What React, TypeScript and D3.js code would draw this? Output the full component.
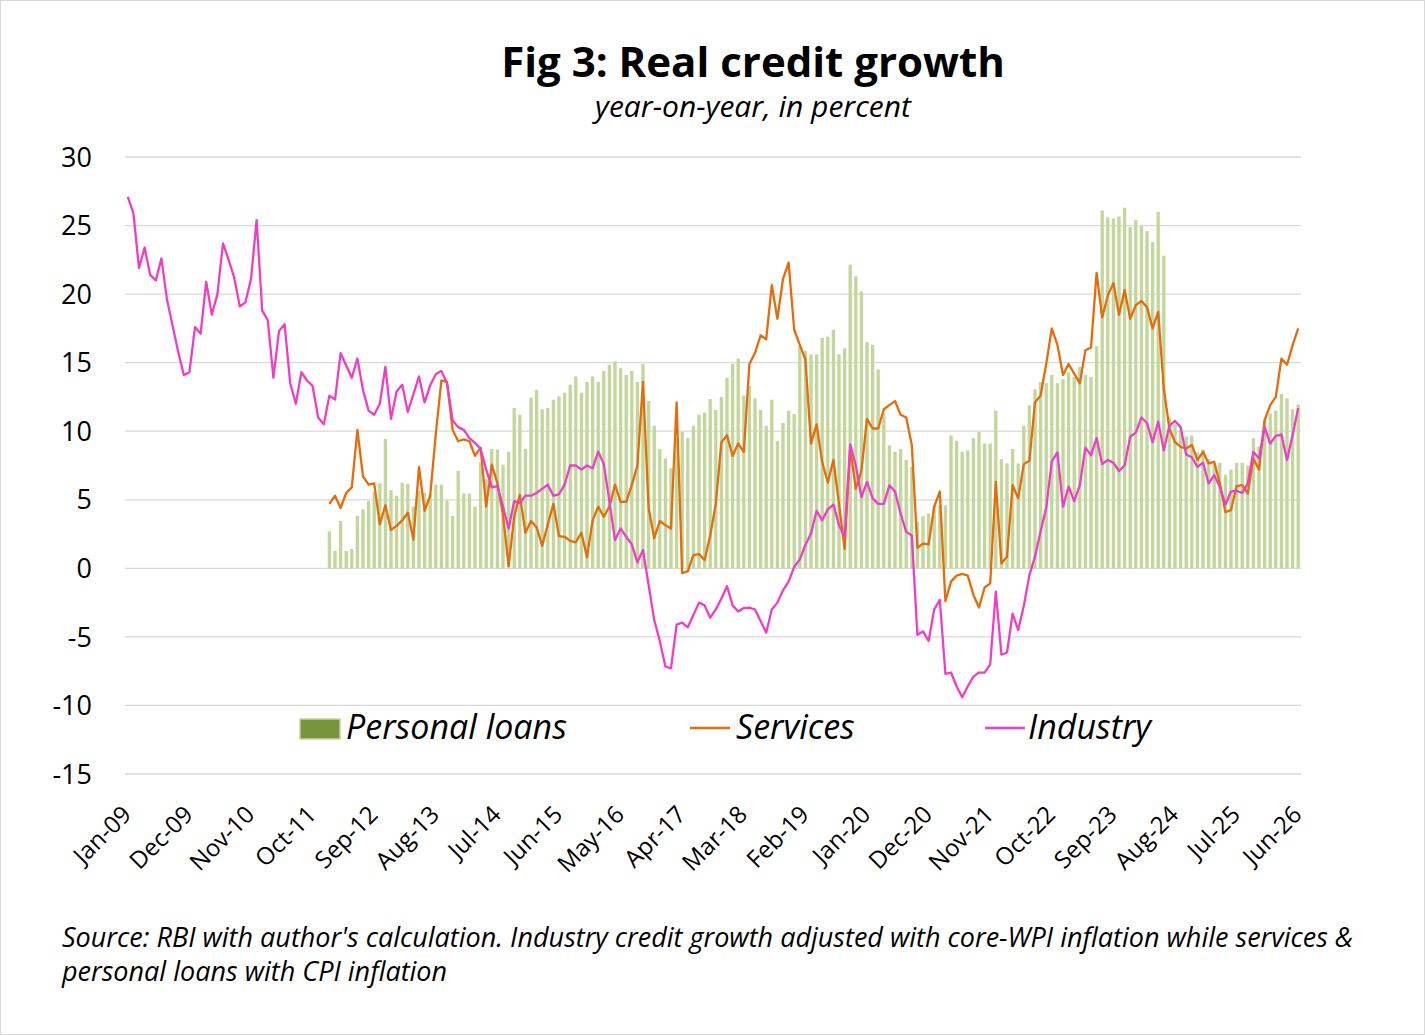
import React from 'react';
import * as d3 from 'd3';

// monthly categories, Jan-09 .. Jun-26
const fmtMonth = d3.timeFormat('%b-%y');
const months: string[] = d3
  .timeMonth.range(new Date(2009, 0, 1), new Date(2026, 6, 1))
  .map((d) => fmtMonth(d));

const tickLabels = [
  'Jan-09', 'Dec-09', 'Nov-10', 'Oct-11', 'Sep-12', 'Aug-13', 'Jul-14',
  'Jun-15', 'May-16', 'Apr-17', 'Mar-18', 'Feb-19', 'Jan-20', 'Dec-20',
  'Nov-21', 'Oct-22', 'Sep-23', 'Aug-24', 'Jul-25', 'Jun-26',
];

const yTicks = [30, 25, 20, 15, 10, 5, 0, -5, -10, -15];

// Industry starts Jan-09
const industry = [
  27.1, 25.9, 21.9, 23.4, 21.4, 21.0, 22.6, 19.6, 17.7, 15.8, 14.1, 14.3,
  17.6, 17.1, 20.9, 18.5, 20.0, 23.7, 22.5, 21.2, 19.1, 19.4, 21.1, 25.4,
  18.8, 18.1, 13.9, 17.3, 17.8, 13.5, 12.0, 14.3, 13.7, 13.3, 11.0, 10.5,
  12.6, 12.3, 15.7, 14.8, 13.9, 15.3, 13.0, 11.5, 11.2, 12.0, 14.7, 10.9,
  12.9, 13.4, 11.4, 12.7, 14.0, 12.1, 13.35, 14.15, 14.4, 13.5, 10.8, 10.3,
  10.1, 9.5, 9.15, 8.7, 7.2, 5.9, 6.0, 4.5, 2.9, 4.9, 4.75, 5.3,
  5.3, 5.5, 5.8, 6.1, 5.3, 5.4, 6.1, 7.5, 7.5, 7.2, 7.5, 7.3,
  8.5, 7.6, 4.9, 2.06, 2.9, 2.3, 1.75, 0.44, 1.33, -1.2, -3.76, -5.3,
  -7.16, -7.3, -4.1, -3.96, -4.3, -3.4, -2.5, -2.7, -3.6, -3.0, -2.2, -1.3,
  -2.7, -3.15, -2.9, -2.86, -3.0, -3.85, -4.7, -3.0, -2.5, -1.6, -0.97, 0.1,
  0.65, 1.7, 2.54, 4.2, 3.5, 4.3, 4.65, 3.15, 2.3, 9.03, 7.5, 5.2,
  6.3, 5.1, 4.7, 4.7, 6.05, 5.6, 4.0, 2.66, 2.4, -4.85, -4.6, -5.3,
  -3.0, -2.3, -7.7, -7.6, -8.6, -9.4, -8.6, -7.9, -7.6, -7.6, -7.0, -1.7,
  -6.3, -6.14, -3.3, -4.5, -2.74, -0.5, 0.85, 2.7, 4.4, 7.8, 8.45, 4.5,
  5.95, 4.9, 6.07, 8.8, 8.25, 9.5, 7.6, 7.9, 7.7, 7.1, 7.5, 9.6,
  9.9, 11.0, 10.6, 9.2, 10.7, 8.6, 10.4, 10.75, 10.3, 8.3, 8.1, 7.4,
  7.7, 6.2, 6.8, 5.95, 4.66, 5.6, 5.66, 5.5, 6.2, 8.5, 8.0, 10.3,
  9.1, 9.66, 9.76, 7.9, 9.7, 11.7,
];

// Services and personal loans start Jan-12
const laterStart = 'Jan-12';

const services = [
  4.7, 5.3, 4.4, 5.5, 5.9, 10.1, 6.7, 6.1, 6.2, 3.2, 4.6, 2.8,
  3.1, 3.5, 4.05, 2.1, 7.4, 4.2, 5.3, 9.8, 13.7, 13.6, 10.1, 9.27,
  9.4, 9.27, 8.2, 8.8, 4.5, 7.56, 6.2, 3.9, 0.17, 3.76, 5.37, 2.6,
  3.45, 3.0, 1.65, 3.2, 4.7, 2.35, 2.3, 2.0, 1.9, 2.6, 0.8, 3.5,
  4.5, 3.76, 4.5, 6.1, 4.85, 4.85, 6.07, 7.5, 13.6, 4.4, 2.2, 3.45,
  3.15, 2.9, 12.1, -0.36, -0.2, 0.97, 1.04, 0.6, 2.4, 4.7, 9.2, 9.7,
  8.2, 9.1, 8.5, 14.9, 15.7, 17.0, 16.7, 20.65, 18.2, 21.1, 22.3, 17.4,
  16.3, 15.25, 9.1, 10.5, 7.75, 6.25, 7.9, 4.7, 1.4, 8.8, 5.8, 7.1,
  10.9, 10.2, 10.2, 11.6, 11.9, 12.2, 11.2, 11.0, 9.0, 1.5, 1.8, 1.75,
  4.5, 5.6, -2.4, -0.97, -0.53, -0.4, -0.53, -1.94, -2.86, -1.4, -1.1, 6.3,
  0.36, 0.85, 6.07, 5.1, 7.6, 7.84, 12.1, 12.6, 14.9, 17.5, 16.3, 14.1,
  14.9, 14.2, 13.5, 15.9, 16.1, 21.55, 18.3, 19.9, 20.8, 18.5, 20.3, 18.2,
  19.2, 19.5, 19.05, 17.5, 18.7, 13.1, 10.2, 9.2, 8.86, 8.74, 9.0, 7.9,
  8.5, 7.65, 7.77, 6.2, 4.1, 4.25, 6.0, 6.07, 5.46, 8.0, 7.2, 10.8,
  11.9, 12.5, 15.3, 14.85, 16.26, 17.5,
];

const personalLoans = [
  2.7, 1.27, 3.46, 1.27, 1.41, 3.83, 4.3, 4.9, 5.6, 6.2, 9.44, 5.7,
  5.3, 6.24, 6.17, 4.5, 5.66, 5.5, 5.4, 6.1, 6.1, 4.95, 3.83, 7.1,
  5.46, 5.46, 4.5, 7.75, 6.5, 8.7, 8.66, 7.56, 8.5, 11.7, 11.2, 8.7,
  12.45, 13.0, 11.6, 11.7, 12.3, 12.55, 12.8, 13.4, 14.0, 12.8, 13.6, 14.0,
  13.6, 14.4, 14.85, 15.1, 14.6, 14.1, 14.4, 13.6, 14.9, 12.2, 10.4, 8.7,
  8.0, 7.3, 9.5, 9.95, 9.5, 10.4, 11.2, 11.35, 12.35, 11.55, 12.5, 13.9,
  14.9, 15.3, 12.6, 13.3, 12.4, 11.55, 10.4, 12.3, 9.3, 10.6, 11.5, 11.26,
  16.2, 15.86, 15.6, 15.6, 16.8, 16.9, 17.4, 15.6, 16.05, 22.15, 21.3, 20.2,
  16.5, 16.3, 14.5, 11.3, 8.96, 8.5, 8.7, 7.9, 7.4, 3.4, 3.8, 4.0,
  4.6, 4.6, 4.6, 9.7, 9.3, 8.5, 8.6, 9.5, 9.95, 9.1, 9.1, 11.5,
  7.96, 7.65, 8.7, 7.65, 10.4, 11.9, 13.05, 13.6, 13.5, 14.1, 13.5, 13.8,
  14.3, 13.96, 14.7, 14.1, 13.96, 16.2, 26.1, 25.6, 25.5, 25.65, 26.3, 24.9,
  25.4, 24.95, 24.6, 23.8, 26.0, 22.8, 11.0, 10.5, 10.1, 9.6, 9.68, 8.46,
  8.66, 7.97, 7.6, 7.7, 6.83, 7.2, 7.7, 7.7, 7.5, 9.5, 8.9, 10.8,
  11.3, 11.5, 12.7, 12.4, 11.6, 11.95,
];

const W = 1425;
const H = 1035;
const FONT = "'Open Sans', 'Noto Sans', sans-serif";

const ORANGE = '#E46C0A';
const PINK = '#EE3FC4';
const BAR_FILL = '#C4D79B';
const BAR_DARK = '#77933C';

type Pt = { m: string; v: number };

const App = () => {
  const x = d3
    .scaleBand<string>()
    .domain(months)
    .range([125, 1301])
    .paddingInner(0.4)
    .paddingOuter(0.2);

  const y = d3.scaleLinear().domain([-15, 30]).range([774, 157]);

  const cx = (m: string) => (x(m) ?? 0) + x.bandwidth() / 2;

  const offset = months.indexOf(laterStart);
  const industryPts: Pt[] = industry.map((v, i) => ({ m: months[i], v }));
  const servicesPts: Pt[] = services.map((v, i) => ({ m: months[offset + i], v }));
  const loanPts: Pt[] = personalLoans.map((v, i) => ({ m: months[offset + i], v }));

  const line = d3
    .line<Pt>()
    .x((d) => cx(d.m))
    .y((d) => y(d.v));

  return (
    <div style={{ position: 'absolute', left: 0, top: 0 }}>
      <svg width={W} height={H} style={{ display: 'block', fontFamily: FONT }}>
        <rect x={0.5} y={0.5} width={W - 1} height={H - 1} fill="#fff" stroke="#d9d9d9" />

        {/* title */}
        <text x={753} y={77} textAnchor="middle" fontSize={42} fontWeight={700} fill="#000">
          Fig 3: Real credit growth
        </text>
        <text x={753} y={117} textAnchor="middle" fontSize={30} fontStyle="italic" fill="#000">
          year-on-year, in percent
        </text>

        {/* gridlines + y labels */}
        {yTicks.map((t) => (
          <g key={t}>
            <line x1={125} x2={1301} y1={y(t)} y2={y(t)} stroke="#d9d9d9" strokeWidth={1.3} />
            <text x={92} y={y(t)} dy="0.36em" textAnchor="end" fontSize={27} fill="#000">
              {t}
            </text>
          </g>
        ))}

        {/* bars */}
        {loanPts.map((d) => (
          <rect
            key={d.m}
            x={x(d.m)}
            width={x.bandwidth()}
            y={y(Math.max(0, d.v))}
            height={Math.abs(y(d.v) - y(0))}
            fill={BAR_FILL}
          />
        ))}

        <path d={line(servicesPts) ?? ''} fill="none" stroke={ORANGE} strokeWidth={2.3} strokeLinejoin="round" />
        <path d={line(industryPts) ?? ''} fill="none" stroke={PINK} strokeWidth={2.3} strokeLinejoin="round" />

        {/* x labels */}
        {tickLabels.map((l) => (
          <text
            key={l}
            transform={`translate(${cx(l) + 5},${816}) rotate(-45)`}
            textAnchor="end"
            fontSize={24}
            fill="#000"
          >
            {l}
          </text>
        ))}

        {/* legend */}
        <rect x={300} y={719} width={40} height={20} fill={BAR_DARK} stroke={BAR_FILL} strokeWidth={1.5} />
        <text x={346} y={739} fontSize={34} fontStyle="italic" fill="#000">Personal loans</text>
        <line x1={690} x2={730} y1={728} y2={728} stroke={ORANGE} strokeWidth={2.3} />
        <text x={736} y={739} fontSize={34} fontStyle="italic" fill="#000">Services</text>
        <line x1={985} x2={1025} y1={728} y2={728} stroke={PINK} strokeWidth={2.3} />
        <text x={1028} y={739} fontSize={34} fontStyle="italic" fill="#000">Industry</text>

        {/* source note */}
        <text x={62} y={947} fontSize={27} fontStyle="italic" fill="#000">
          Source: RBI with author's calculation. Industry credit growth adjusted with core-WPI inflation while services &amp;
        </text>
        <text x={62} y={981} fontSize={27} fontStyle="italic" fill="#000">
          personal loans with CPI inflation
        </text>
      </svg>
    </div>
  );
};

export default App;
